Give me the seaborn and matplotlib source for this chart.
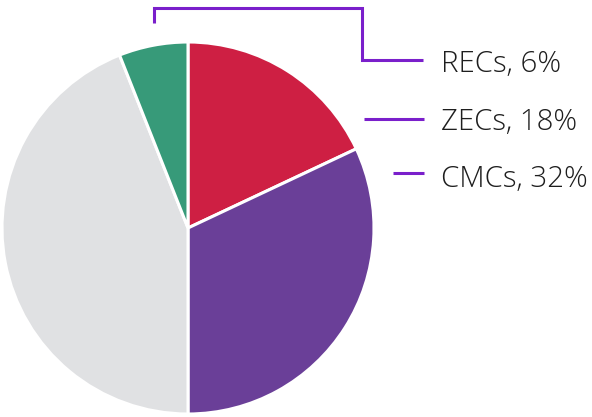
import matplotlib
matplotlib.use('Agg')
import matplotlib.pyplot as plt
import seaborn as sns

sns.set_theme(style='white')
plt.rcParams['font.family'] = ['Open Sans', 'DejaVu Sans']

# data
names = ['ZECs', 'CMCs', 'Other', 'RECs']
shares = [18, 32, 44, 6]
colors = ['#CE1F43', '#6A3F98', '#E0E1E3', '#379A79']
line_color = '#7A1FCB'

W, H = 592, 417
fig = plt.figure(figsize=(W / 100, H / 100), dpi=100)
ax = fig.add_axes([0, 0, 1, 1])

ax.pie(shares, colors=colors, startangle=90, counterclock=False,
       center=(188, H - 228), radius=186,
       wedgeprops=dict(edgecolor='white', linewidth=2.2))
ax.set_xlim(0, W)
ax.set_ylim(0, H)
ax.set_aspect('equal')
ax.axis('off')

# leader lines (pixel coords, y measured from top)
def leader(xs, ys):
    ax.plot(xs, [H - y for y in ys], color=line_color, lw=2.2,
            solid_capstyle='butt', solid_joinstyle='miter')

leader([154, 154, 362, 362, 423], [23, 8, 8, 60, 60])
leader([364, 424], [118.5, 118.5])
leader([393, 424], [173, 173])

# baselines of the labels
label_y = {'RECs': 72, 'ZECs': 129.5, 'CMCs': 186.5}
for n, s in zip(names, shares):
    if n in label_y:
        ax.text(441, H - label_y[n], f'{n}, {s}%', fontsize=21.2,
                fontweight='light', color='#1e1e1e', va='baseline', ha='left')

fig.savefig('out.png', dpi=100)
